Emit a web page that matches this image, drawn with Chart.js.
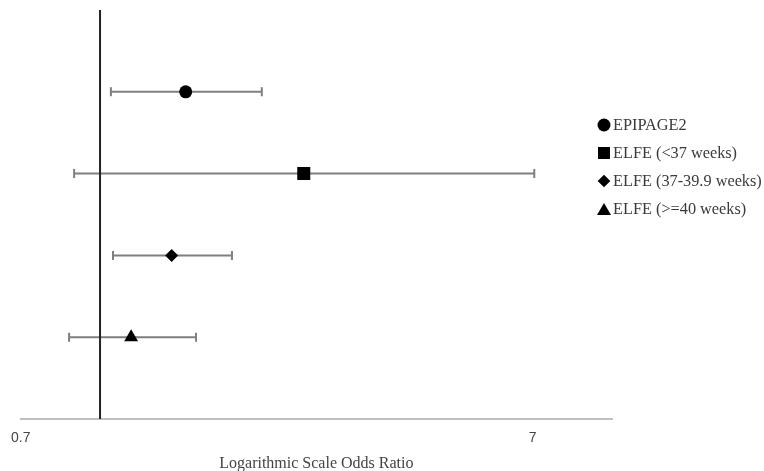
<!DOCTYPE html>
<html>
<head>
<meta charset="utf-8">
<script src="https://cdn.jsdelivr.net/npm/chart.js@4"></script>
<style>
  html, body { margin: 0; padding: 0; background: #fff; }
  #wrap { position: relative; width: 764px; height: 471px; }
  #legend { position: absolute; left: 597px; top: 111px; font-family: 'Liberation Serif', 'Times New Roman', serif;
    font-size: 16.3px; color: #3a3a3a; list-style: none; margin: 0; padding: 0; }
  #legend li { height: 28px; line-height: 20px; display: flex; align-items: center; white-space: nowrap; }
  #legend .mk { display: inline-block; width: 14px; height: 14px; margin-right: 2px; position: relative; }
</style>
</head>
<body>
<div id="wrap">
  <canvas id="forest" width="764" height="471"></canvas>
  <ul id="legend"></ul>
</div>
<script>
// Study groups, top to bottom
const studies = ['EPIPAGE2', 'ELFE (<37 weeks)', 'ELFE (37-39.9 weeks)', 'ELFE (>=40 weeks)'];
const oddsRatios = [1.47, 2.50, 1.38, 1.15];
const lowerCI = [1.05, 0.89, 1.06, 0.87];
const upperCI = [2.07, 7.05, 1.81, 1.54];
const rowPos = [4, 3, 2, 1];
const markers = ['circle', 'rect', 'rectRot', 'triangle'];
const markerSizes = [6.5, 9.2, 6.5, 8];
const xTicks = [0.7, 7];

// Draws the confidence interval whiskers using the chart scales
const errorBars = {
  id: 'errorBars',
  beforeDatasetsDraw(chart) {
    const { ctx, scales: { x, y } } = chart;
    ctx.save();
    ctx.strokeStyle = '#7f7f7f';
    ctx.lineWidth = 2;
    studies.forEach((s, i) => {
      const py = y.getPixelForValue(rowPos[i]);
      const x1 = x.getPixelForValue(lowerCI[i]);
      const x2 = x.getPixelForValue(upperCI[i]);
      ctx.beginPath();
      ctx.moveTo(x1, py); ctx.lineTo(x2, py);
      ctx.moveTo(x1, py - 4.5); ctx.lineTo(x1, py + 4.5);
      ctx.moveTo(x2, py - 4.5); ctx.lineTo(x2, py + 4.5);
      ctx.stroke();
    });
    ctx.restore();
  }
};

new Chart(document.getElementById('forest'), {
  type: 'scatter',
  data: {
    datasets: [{
      label: 'Odds ratio',
      data: studies.map((s, i) => ({ x: oddsRatios[i], y: rowPos[i] })),
      pointStyle: markers,
      radius: markerSizes,
      backgroundColor: '#000',
      borderColor: '#000',
      borderWidth: 0
    }, {
      type: 'line',
      label: 'No effect',
      data: [{ x: 1, y: 0 }, { x: 1, y: 5 }],
      borderColor: '#222',
      borderWidth: 2,
      pointRadius: 0
    }]
  },
  options: {
    responsive: false,
    animation: false,
    layout: { padding: { left: 18, right: 152, top: 10, bottom: 0 } },
    plugins: { legend: { display: false }, tooltip: { enabled: false } },
    scales: {
      x: {
        type: 'logarithmic',
        min: 0.7,
        max: 10,
        afterBuildTicks(axis) { axis.ticks = xTicks.map(v => ({ value: v })); },
        ticks: {
          callback: v => String(v),
          color: '#444',
          padding: 11,
          maxRotation: 0,
          font: { family: "'Liberation Sans Narrow', 'Liberation Sans', Arial, sans-serif", size: 14 }
        },
        grid: { display: false, drawTicks: false },
        border: { color: '#c0c0c0', width: 2 },
        title: {
          display: true,
          text: 'Logarithmic Scale Odds Ratio',
          color: '#444',
          padding: { top: -4, bottom: -2 },
          font: { family: "'Liberation Serif', 'Times New Roman', serif", size: 16 }
        }
      },
      y: { type: 'linear', min: 0, max: 5, display: false }
    }
  },
  plugins: [errorBars]
});

// Legend built from the same study list
const legendEl = document.getElementById('legend');
const shapeCss = {
  circle: 'width:13px;height:13px;border-radius:50%;background:#000;',
  rect: 'width:12px;height:12px;background:#000;',
  rectRot: 'width:9px;height:9px;background:#000;',
  triangle: 'width:0;height:0;border-left:7px solid transparent;border-right:7px solid transparent;border-bottom:12px solid #000;'
};
studies.forEach((s, i) => {
  const li = document.createElement('li');
  const mk = document.createElement('span');
  mk.className = 'mk';
  const rot = markers[i] === 'rectRot' ? ' rotate(45deg)' : '';
  mk.innerHTML = `<span style="position:absolute;left:50%;top:50%;transform:translate(-50%,-50%)${rot};${shapeCss[markers[i]]}"></span>`;
  li.appendChild(mk);
  li.appendChild(document.createTextNode(s));
  legendEl.appendChild(li);
});
</script>
</body>
</html>
